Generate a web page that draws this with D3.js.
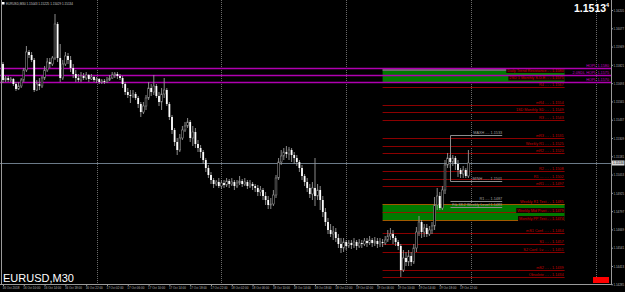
<!DOCTYPE html>
<html><head><meta charset="utf-8">
<script src="https://cdn.jsdelivr.net/npm/d3@7/dist/d3.min.js"></script>
<style>html,body{margin:0;padding:0;background:#000;overflow:hidden}svg{display:block}</style>
</head><body><svg id="c" width="625" height="292"></svg>
<script>
// ---------------- DATA ----------------
const symbol = "EURUSD,M30";
const firstBarTime = "2018-10-16T06:00:00";   // M30 bars
const barMinutes = 30;

const opens = [1.15827,1.15715,1.15729,1.15715,1.15722,1.15687,1.15652,1.15673,1.15715,1.15785,
1.15911,1.15890,1.15855,1.15645,1.15687,1.15673,1.15729,1.15785,1.15841,1.15827,
1.15869,1.16107,1.15869,1.15729,1.15827,1.15883,1.15855,1.15799,1.15757,1.15729,
1.15715,1.15743,1.15729,1.15750,1.15722,1.15736,1.15715,1.15722,1.15701,1.15708,
1.15701,1.15715,1.15729,1.15750,1.15757,1.15743,1.15729,1.15687,1.15631,1.15610,
1.15603,1.15617,1.15589,1.15547,1.15491,1.15533,1.15589,1.15659,1.15631,1.15673,
1.15603,1.15561,1.15617,1.15645,1.15547,1.15456,1.15365,1.15281,1.15225,1.15309,
1.15365,1.15393,1.15421,1.15309,1.15351,1.15267,1.15239,1.15211,1.15155,1.15099,
1.15050,1.15015,1.14987,1.15001,1.14973,1.14994,1.14980,1.15008,1.14987,1.15001,
1.14973,1.14994,1.15008,1.14987,1.15001,1.14973,1.14987,1.14973,1.14959,1.14931,
1.14945,1.14903,1.14875,1.14840,1.14847,1.14910,1.15029,1.15141,1.15183,1.15211,
1.15197,1.15225,1.15190,1.15169,1.15141,1.15099,1.15043,1.15001,1.14959,1.14917,
1.14959,1.14903,1.14945,1.14875,1.14791,1.14721,1.14665,1.14637,1.14651,1.14609,
1.14567,1.14539,1.14581,1.14553,1.14574,1.14560,1.14581,1.14553,1.14574,1.14567,
1.14588,1.14574,1.14595,1.14574,1.14588,1.14567,1.14581,1.14574,1.14595,1.14623,
1.14637,1.14609,1.14581,1.14553,1.14385,1.14469,1.14441,1.14483,1.14441,1.14539,
1.14651,1.14721,1.14651,1.14679,1.14637,1.14665,1.14693,1.14840,1.14903,1.14819,
1.14945,1.15120,1.15169,1.15141,1.15169,1.15127,1.15085,1.15057,1.15085,1.15043];

const highs = [1.15841,1.15743,1.15743,1.15736,1.15729,1.15701,1.15701,1.15729,1.15799,1.15953,
1.15925,1.15911,1.15869,1.15715,1.15729,1.15743,1.15813,1.15869,1.15869,1.15883,
1.16177,1.16121,1.15967,1.15855,1.15911,1.15904,1.15883,1.15827,1.15785,1.15757,
1.15771,1.15764,1.15771,1.15757,1.15757,1.15743,1.15736,1.15729,1.15722,1.15722,
1.15736,1.15750,1.15771,1.15771,1.15771,1.15757,1.15743,1.15701,1.15659,1.15645,
1.15645,1.15631,1.15603,1.15561,1.15561,1.15610,1.15701,1.15687,1.15750,1.15687,
1.15631,1.15659,1.15729,1.15659,1.15561,1.15470,1.15379,1.15309,1.15337,1.15393,
1.15421,1.15449,1.15435,1.15393,1.15379,1.15295,1.15260,1.15225,1.15169,1.15120,
1.15071,1.15029,1.15015,1.15029,1.15015,1.15015,1.15029,1.15022,1.15029,1.15015,
1.15015,1.15043,1.15022,1.15029,1.15015,1.15015,1.15001,1.14987,1.14980,1.14973,
1.14959,1.14931,1.14903,1.14889,1.14945,1.15050,1.15169,1.15225,1.15239,1.15253,
1.15246,1.15239,1.15211,1.15190,1.15155,1.15120,1.15057,1.15029,1.14987,1.15001,
1.15169,1.14987,1.14973,1.14903,1.14819,1.14749,1.14707,1.14693,1.14679,1.14637,
1.14609,1.14609,1.14595,1.14595,1.14595,1.14609,1.14595,1.14602,1.14595,1.14609,
1.14609,1.14623,1.14609,1.14616,1.14609,1.14609,1.14602,1.14623,1.14665,1.14679,
1.14665,1.14623,1.14595,1.14567,1.14525,1.14511,1.14525,1.14511,1.14567,1.14686,
1.14763,1.14735,1.14707,1.14707,1.14693,1.14721,1.14896,1.14959,1.14931,1.14973,
1.15155,1.15204,1.15190,1.15190,1.15183,1.15155,1.15099,1.15113,1.15099,1.15225];

const lows = [1.15694,1.15701,1.15701,1.15701,1.15673,1.15638,1.15645,1.15659,1.15701,1.15771,
1.15869,1.15841,1.15631,1.15638,1.15645,1.15659,1.15715,1.15771,1.15799,1.15813,
1.15855,1.15841,1.15701,1.15715,1.15813,1.15827,1.15771,1.15729,1.15701,1.15701,
1.15701,1.15715,1.15715,1.15701,1.15715,1.15701,1.15694,1.15687,1.15687,1.15687,
1.15694,1.15708,1.15722,1.15729,1.15722,1.15715,1.15659,1.15610,1.15589,1.15554,
1.15589,1.15575,1.15519,1.15456,1.15477,1.15505,1.15575,1.15603,1.15610,1.15589,
1.15533,1.15505,1.15589,1.15533,1.15435,1.15337,1.15253,1.15190,1.15211,1.15295,
1.15351,1.15379,1.15281,1.15253,1.15239,1.15211,1.15169,1.15127,1.15071,1.15029,
1.14987,1.14959,1.14973,1.14959,1.14952,1.14959,1.14966,1.14959,1.14973,1.14945,
1.14959,1.14980,1.14966,1.14973,1.14952,1.14959,1.14945,1.14931,1.14903,1.14903,
1.14875,1.14840,1.14812,1.14812,1.14833,1.14889,1.15015,1.15120,1.15155,1.15169,
1.15155,1.15141,1.15127,1.15113,1.15071,1.15015,1.14973,1.14931,1.14889,1.14875,
1.14833,1.14875,1.14805,1.14756,1.14693,1.14637,1.14616,1.14595,1.14581,1.14539,
1.14504,1.14511,1.14525,1.14539,1.14532,1.14539,1.14525,1.14539,1.14539,1.14553,
1.14546,1.14560,1.14546,1.14553,1.14539,1.14546,1.14546,1.14560,1.14581,1.14595,
1.14567,1.14553,1.14525,1.14336,1.14371,1.14413,1.14413,1.14413,1.14427,1.14511,
1.14623,1.14609,1.14616,1.14616,1.14623,1.14637,1.14665,1.14805,1.14805,1.14805,
1.14917,1.15099,1.15099,1.15113,1.15085,1.15036,1.15029,1.15029,1.15029,1.15029];

const closes = [1.15715,1.15729,1.15715,1.15722,1.15687,1.15652,1.15673,1.15715,1.15785,1.15911,
1.15890,1.15855,1.15645,1.15687,1.15673,1.15729,1.15785,1.15841,1.15827,1.15869,
1.16107,1.15869,1.15729,1.15827,1.15883,1.15855,1.15799,1.15757,1.15729,1.15715,
1.15743,1.15729,1.15750,1.15722,1.15736,1.15715,1.15722,1.15701,1.15708,1.15701,
1.15715,1.15729,1.15750,1.15757,1.15743,1.15729,1.15687,1.15631,1.15610,1.15603,
1.15617,1.15589,1.15547,1.15491,1.15533,1.15589,1.15659,1.15631,1.15673,1.15603,
1.15561,1.15617,1.15645,1.15547,1.15456,1.15365,1.15281,1.15225,1.15309,1.15365,
1.15393,1.15421,1.15309,1.15351,1.15267,1.15239,1.15211,1.15155,1.15099,1.15050,
1.15015,1.14987,1.15001,1.14973,1.14994,1.14980,1.15008,1.14987,1.15001,1.14973,
1.14994,1.15008,1.14987,1.15001,1.14973,1.14987,1.14973,1.14959,1.14931,1.14945,
1.14903,1.14875,1.14840,1.14847,1.14910,1.15029,1.15141,1.15183,1.15211,1.15197,
1.15225,1.15190,1.15169,1.15141,1.15099,1.15043,1.15001,1.14959,1.14917,1.14959,
1.14903,1.14945,1.14875,1.14791,1.14721,1.14665,1.14637,1.14651,1.14609,1.14567,
1.14539,1.14581,1.14553,1.14574,1.14560,1.14581,1.14553,1.14574,1.14567,1.14588,
1.14574,1.14595,1.14574,1.14588,1.14567,1.14581,1.14574,1.14595,1.14623,1.14637,
1.14609,1.14581,1.14553,1.14385,1.14469,1.14441,1.14483,1.14441,1.14539,1.14651,
1.14721,1.14651,1.14679,1.14637,1.14665,1.14693,1.14840,1.14903,1.14819,1.14945,
1.15120,1.15169,1.15141,1.15169,1.15127,1.15085,1.15057,1.15085,1.15043,1.15134];

const xTickLabels = ["16 Oct 2018","16 Oct 10:00","16 Oct 14:00","16 Oct 18:00","16 Oct 22:00",
"17 Oct 02:00","17 Oct 06:00","17 Oct 10:00","17 Oct 14:00","17 Oct 18:00","17 Oct 22:00",
"18 Oct 02:00","18 Oct 06:00","18 Oct 10:00","18 Oct 14:00","18 Oct 18:00","18 Oct 22:00",
"19 Oct 02:00","19 Oct 06:00","19 Oct 10:00","19 Oct 14:00","19 Oct 18:00","19 Oct 22:00"];
const barsPerXTick = 8;

const yTickValues = [1.16205,1.16077,1.15949,1.15821,1.15693,1.15565,1.15437,1.15309,
1.15181,1.15053,1.14925,1.14797,1.14669,1.14541,1.14413,1.14285];

// HOPL lines (magenta)
const hoplNames  = ["HOPL","2.0SDL HOPL","HOPL"];
const hoplPrices = [1.15799, 1.15750, 1.15701];

// pivot / SD levels (dark red)
const levelNames  = ["R4","mR4","1SD Monthly SD","R3","mR3","Weekly R1","mR2","R2","R1 ....","mR1",
                     "mS1 Conf.","S1","S2 Conf. Lv.","mS2","Obsolete"];
const levelPrices = [1.15666,1.15540,1.15491,1.15435,1.15309,1.15253,1.15204,1.15078,1.15022,1.14973,
                     1.14644,1.14567,1.14511,1.14385,1.14336];

// zones
const zoneNames   = [["Daily Trend Resistance","2SD 1 Monthly S.D.E."],
                     ["Weekly R1 Test","Weekly Mid Pivot","Monthly PP Test"]];
const zoneTops    = [1.15799, 1.14847];
const zoneBottoms = [1.15694, 1.14735];
const zoneMids    = [1.15750, 1.14791];
const zoneFromBar = 146, zoneToBar = 216;

// session high / low markers (grey)
const markNames  = ["MAXH ....","MINH ......","R1 ....","Fib 38.2 Weekly Level"];
const markPrices = [1.15330, 1.15008, 1.14868, 1.14826];
const markFromBar = 172, markToBar = 192;

// ---------------- CHART ----------------
const W = 625, H = 292;
const plotRight = 611, plotBottom = 284;
const svg = d3.select("#c");
svg.append("rect").attr("width",W).attr("height",H).attr("fill","#000");

const nBars = closes.length;
const x = d3.scaleLinear().domain([0, 231]).range([3, 3 + 2.6*231]);
const y = d3.scaleLinear().domain([1.14287, 1.16275]).range([plotBottom, 0]);
const font = "'Liberation Sans', Arial, sans-serif";
const px = v => Math.round(v) + 0.5;

const parse = d3.timeParse("%Y-%m-%dT%H:%M:%S");
const t0 = parse(firstBarTime);
const barTime = i => d3.timeMinute.offset(t0, i*barMinutes);

svg.append("clipPath").attr("id","plot").append("rect")
  .attr("x",0).attr("y",0).attr("width",plotRight).attr("height",plotBottom);
const g = svg.append("g").attr("clip-path","url(#plot)");

// day grid (dotted)
const gridBars = d3.range(0, 232).filter(i => { const t = barTime(i); return t.getHours()===0 && t.getMinutes()===0; });
g.selectAll("line.grid").data(gridBars).join("line")
  .attr("x1", d=>px(x(d))).attr("x2", d=>px(x(d)))
  .attr("y1", 0).attr("y2", plotBottom)
  .attr("stroke","#6a6a6a").attr("stroke-dasharray","1,1").attr("stroke-width",1);

// zones
const zx1 = x(zoneFromBar), zx2 = x(zoneToBar);
zoneTops.forEach((top,k) => {
  g.append("rect").attr("x",zx1).attr("y",y(top)).attr("width",zx2-zx1)
    .attr("height",y(zoneBottoms[k])-y(top)).attr("fill","#007a00");
});
g.append("rect").attr("x",zx1).attr("y",y(zoneTops[0])).attr("width",x(210)-zx1).attr("height",3).attr("fill","#6d6d6d");
[zoneTops[1], zoneBottoms[1]].forEach(p => {
  g.append("line").attr("x1",zx1).attr("x2",zx2).attr("y1",px(y(p))).attr("y2",px(y(p)))
    .attr("stroke","#a05a00").attr("stroke-width",1);
});
g.append("line").attr("x1",zx1).attr("x2",zx2).attr("y1",px(y(zoneMids[1]))).attr("y2",px(y(zoneMids[1])))
  .attr("stroke","#8a1a00").attr("stroke-width",1);

// red levels
g.selectAll("line.lvl").data(levelPrices).join("line")
  .attr("x1",zx1).attr("x2",zx2).attr("y1",d=>px(y(d))).attr("y2",d=>px(y(d)))
  .attr("stroke","#8b0000").attr("stroke-width",1);
g.selectAll("text.lvl").data(levelPrices).join("text")
  .attr("x",zx2-1).attr("y",d=>y(d)-1).attr("text-anchor","end")
  .attr("font-family",font).attr("font-size",3.8).attr("fill","#c80000")
  .text((d,i)=>levelNames[i]+" - - - "+d.toFixed(4));

function zoneLabel(txt, price, yy, boxed){
  const t = g.append("text").attr("x",zx2-1).attr("y",yy).attr("text-anchor","end")
    .attr("font-family",font).attr("font-size",3.8).attr("fill","#d00000")
    .text(txt+" - - "+price.toFixed(4));
  if (boxed){
    const bb = t.node().getBBox();
    g.insert("rect", function(){ return t.node(); })
      .attr("x",bb.x-1).attr("y",bb.y-0.5).attr("width",bb.width+2).attr("height",bb.height+1).attr("fill","#1a0000");
  }
}
zoneLabel(zoneNames[0][0], zoneTops[0], y(zoneTops[0])+3.5, true);
zoneLabel(zoneNames[0][1], zoneMids[0], y(zoneMids[0])+4, true);
zoneLabel(zoneNames[1][0], zoneTops[1], y(zoneTops[1])-1.5, false);
zoneLabel(zoneNames[1][1], zoneMids[1], y(zoneMids[1])-0.5, true);
zoneLabel(zoneNames[1][2], zoneBottoms[1], y(zoneBottoms[1])-0.5, true);

// magenta HOPL lines
g.selectAll("line.hopl").data(hoplPrices).join("line")
  .attr("x1",0).attr("x2",plotRight).attr("y1",d=>px(y(d))).attr("y2",d=>px(y(d)))
  .attr("stroke","#b000b0").attr("stroke-width",1.3);
g.selectAll("text.hopl").data(hoplPrices).join("text")
  .attr("x",plotRight-2).attr("y",d=>y(d)-1).attr("text-anchor","end")
  .attr("font-family",font).attr("font-size",3.8).attr("fill","#c000c0")
  .text((d,i)=>hoplNames[i]+" "+d.toFixed(4));

// grey markers (max/min)
const mx1 = x(markFromBar), mx2 = x(markToBar);
g.selectAll("line.mark").data(markPrices).join("line")
  .attr("x1",px(mx1)).attr("x2",mx2).attr("y1",d=>px(y(d))).attr("y2",d=>px(y(d)))
  .attr("stroke","#8c8c8c").attr("stroke-width",1);
g.append("line").attr("x1",px(mx1)).attr("x2",px(mx1)).attr("y1",px(y(markPrices[0]))).attr("y2",px(y(markPrices[1])))
  .attr("stroke","#8c8c8c").attr("stroke-width",1);
g.selectAll("text.mark").data(markPrices).join("text")
  .attr("x",mx2).attr("y",d=>y(d)-1).attr("text-anchor","end")
  .attr("font-family",font).attr("font-size",3.8).attr("fill","#a0a0a0")
  .text((d,i)=>markNames[i]+" "+d.toFixed(4));

// current price line
const last = nBars-1;
g.append("line").attr("x1",0).attr("x2",plotRight).attr("y1",px(y(closes[last]))).attr("y2",px(y(closes[last])))
  .attr("stroke","#6b7a88").attr("stroke-width",1);

// candles
const bars = d3.range(nBars);
g.selectAll("line.wick").data(bars).join("line")
  .attr("x1",i=>x(i)).attr("x2",i=>x(i)).attr("y1",i=>y(highs[i])).attr("y2",i=>y(lows[i]))
  .attr("stroke","#9a9a9a").attr("stroke-width",0.9);
g.selectAll("rect.body").data(bars).join("rect")
  .attr("x",i=>x(i)-0.9).attr("width",1.8)
  .attr("y",i=>y(Math.max(opens[i],closes[i])))
  .attr("height",i=>Math.max(0.8, Math.abs(y(opens[i])-y(closes[i]))))
  .attr("fill",i=> closes[i] < opens[i] ? "#ffffff" : "#000000")
  .attr("stroke",i=> closes[i] < opens[i] ? "none" : "#8a8a8a")
  .attr("stroke-width",0.6);

// frame
svg.append("line").attr("x1",1.5).attr("x2",1.5).attr("y1",0).attr("y2",plotBottom).attr("stroke","#9a9a9a");
svg.append("line").attr("x1",plotRight+0.5).attr("x2",plotRight+0.5).attr("y1",0).attr("y2",plotBottom).attr("stroke","#9a9a9a");
svg.append("line").attr("x1",0).attr("x2",plotRight+1).attr("y1",plotBottom+0.5).attr("y2",plotBottom+0.5).attr("stroke","#9a9a9a");

// y axis
const yAxis = d3.axisRight(y).tickValues(yTickValues).tickSize(1.5).tickFormat(d3.format(".5f"));
const ya = svg.append("g").attr("transform",`translate(${plotRight+0.5},0)`).call(yAxis);
ya.select(".domain").remove();
ya.selectAll("line").attr("stroke","#9a9a9a");
ya.selectAll("text").attr("fill","#b8b8b8").attr("font-family",font).attr("font-size",3.6).attr("x",2)
  .attr("textLength",10.5).attr("lengthAdjust","spacingAndGlyphs");

// current price tag on axis
const cy = y(closes[last]);
svg.append("rect").attr("x",plotRight+1).attr("y",cy-2.5).attr("width",12.5).attr("height",5).attr("fill","#d8d8d8");
svg.append("text").attr("x",plotRight+2).attr("y",cy+1.3).attr("font-family",font).attr("font-size",3.6)
  .attr("fill","#000").attr("textLength",10.5).attr("lengthAdjust","spacingAndGlyphs").text(closes[last].toFixed(5));

// x axis
const xTickBars = xTickLabels.map((d,k)=>k*barsPerXTick);
const xAxis = d3.axisBottom(x).tickValues(xTickBars).tickSize(1.5).tickFormat((d,k)=>xTickLabels[k]);
const xa = svg.append("g").attr("transform",`translate(0,${plotBottom+0.5})`).call(xAxis);
xa.select(".domain").remove();
xa.selectAll("line").attr("stroke","#9a9a9a");
xa.selectAll("text").attr("fill","#b8b8b8").attr("font-family",font).attr("font-size",3.3)
  .attr("text-anchor","start").attr("dy",0).attr("y",4.5).attr("x",-1)
  .attr("textLength",17).attr("lengthAdjust","spacingAndGlyphs");

// header text
svg.append("rect").attr("x",2).attr("y",2).attr("width",2.5).attr("height",2.5).attr("fill","#fff");
svg.append("text").attr("x",6).attr("y",5).attr("font-family",font).attr("font-size",3.6).attr("fill","#c8c8c8")
  .attr("textLength",67).attr("lengthAdjust","spacingAndGlyphs")
  .text(`${symbol}  ${opens[last].toFixed(5)} ${highs[last].toFixed(5)} ${lows[last].toFixed(5)} ${closes[last].toFixed(5)}`);

// big price
const priceStr = closes[last].toFixed(5);
svg.append("text").attr("x",574).attr("y",11.5).attr("font-family",font).attr("font-weight","bold")
  .attr("font-size",10.5).attr("fill","#fff").text(priceStr.slice(0,6));
svg.append("text").attr("x",606).attr("y",7).attr("font-family",font).attr("font-weight","bold")
  .attr("font-size",5.5).attr("fill","#fff").text(priceStr.slice(6));

// symbol label
svg.append("text").attr("x",3).attr("y",282).attr("font-family",font)
  .attr("font-size",11).attr("fill","#fff").text(symbol);

// red box bottom right
svg.append("rect").attr("x",593).attr("y",277).attr("width",16).attr("height",6).attr("fill","#ff0000");
</script></body></html>
